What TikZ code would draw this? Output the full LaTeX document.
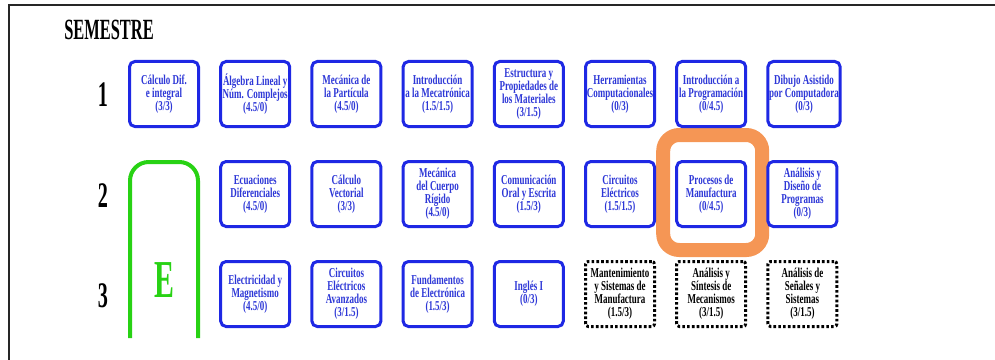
\documentclass[tikz,border=0pt]{standalone}
\usepackage{fontspec}
\setmainfont{Liberation Serif}[FakeStretch=0.66]
\newfontfamily\headfont{Liberation Serif}[FakeStretch=0.56]
\usepackage{tikz}
\usetikzlibrary{positioning, backgrounds}
\usepackage{xcolor}

\definecolor{courseblue}{RGB}{30,40,228}
\definecolor{coursetext}{RGB}{45,55,215}
\definecolor{elecgreen}{RGB}{40,210,20}
\definecolor{markorange}{RGB}{245,150,85}

\newcommand{\boxfont}{\fontsize{10.2}{9.8}\selectfont\bfseries\fontdimen2\font=1.7pt}

\begin{document}
\begin{tikzpicture}[
  x=0.75pt, y=-0.75pt,
  node distance=26.25pt and 16.65pt,
  course/.style={rectangle, draw=courseblue, line width=2.25pt, fill=white,
                 rounded corners=4pt, outer sep=0pt, inner sep=1pt,
                 minimum width=51.75pt, minimum height=48.75pt,
                 align=center, text=coursetext, font=\boxfont},
  pending/.style={course, draw=black, text=black, rounded corners=2pt,
                  dash pattern=on 2pt off 1.6pt},
  semnum/.style={font=\headfont\fontsize{27}{29}\selectfont\bfseries, inner sep=0pt},
  semtitle/.style={font=\headfont\fontsize{22}{24}\selectfont\bfseries, inner sep=0pt},
  elabel/.style={font=\headfont\fontsize{40}{42}\selectfont\bfseries, text=elecgreen,
                 inner sep=0pt},
  ebox/.style={draw=elecgreen, line width=3pt, rounded corners=14pt},
  frame/.style={draw=black!85, line width=1.6pt},
  hilite/.style={draw=markorange, line width=10.5pt, rounded corners=12pt}
]
\useasboundingbox (0,0) rectangle (995,360);

% ----- page frame and headings -----
\draw[frame] (9,360) -- (9,5) -- (995,5);
\node[semtitle, anchor=west] (sem) at (64,30) {SEMESTRE};
\node[semnum] (s1) at (103,95) {1};
\node[semnum] (s2) at (103,196) {2};
\node[semnum] (s3) at (103,296) {3};

% ----- semester 1 -----
\node[course] (c11) at (164,94) {C\'alculo Dif.\\e integral\\(3/3)};
\node[course, right=of c11] (c12) {\'Algebra Lineal y\\N\'um. Complejos\\(4.5/0)};
\node[course, right=of c12] (c13) {Mec\'anica de\\la Part\'icula\\(4.5/0)};
\node[course, right=of c13] (c14) {Introducci\'on\\a la Mecatr\'onica\\(1.5/1.5)};
\node[course, right=of c14] (c15) {Estructura y\\Propiedades de\\los Materiales\\(3/1.5)};
\node[course, right=of c15] (c16) {Herramientas\\Computacionales\\(0/3)};
\node[course, right=of c16] (c17) {Introducci\'on a\\la Programaci\'on\\(0/4.5)};
\node[course, right=of c17] (c18) {Dibujo Asistido\\por Computadora\\(0/3)};

% ----- semester 2 -----
\node[course, below=of c12] (c22) {Ecuaciones\\Diferenciales\\(4.5/0)};
\node[course, right=of c22] (c23) {C\'alculo\\Vectorial\\(3/3)};
\node[course, right=of c23] (c24) {Mec\'anica\\del Cuerpo\\R\'igido\\(4.5/0)};
\node[course, right=of c24] (c25) {Comunicaci\'on\\Oral y Escrita\\(1.5/3)};
\node[course, right=of c25] (c26) {Circuitos\\El\'ectricos\\(1.5/1.5)};
\node[course, right=of c26] (c27) {Procesos de\\Manufactura\\(0/4.5)};
\node[course, right=of c27] (c28) {An\'alisis y\\Dise\~no de\\Programas\\(0/3)};

% ----- semester 3 -----
\node[course, below=of c22] (c32) {Electricidad y\\Magnetismo\\(4.5/0)};
\node[course, right=of c32] (c33) {Circuitos\\El\'ectricos\\Avanzados\\(3/1.5)};
\node[course, right=of c33] (c34) {Fundamentos\\de Electr\'onica\\(1.5/3)};
\node[course, right=of c34] (c35) {Ingl\'es I\\(0/3)};
\node[pending, right=of c35] (c36) {Mantenimiento\\y Sistemas de\\Manufactura\\(1.5/3)};
\node[pending, right=of c36] (c37) {An\'alisis y\\S\'intesis de\\Mecanismos\\(3/1.5)};
\node[pending, right=of c37] (c38) {An\'alisis de\\Se\~nales y\\Sistemas\\(3/1.5)};

% ----- elective column -----
\node[elabel] (elec) at (164,280) {E};
\draw[ebox] (130,338) -- (130,162) -- (198,162) -- (198,338);

% ----- highlight -----
\begin{scope}[on background layer]
\draw[hilite] ([shift={(-13.5,-26.5)}]c27.north west)
  rectangle ([shift={(16.5,23.5)}]c27.south east);
\end{scope}

\end{tikzpicture}
\end{document}
